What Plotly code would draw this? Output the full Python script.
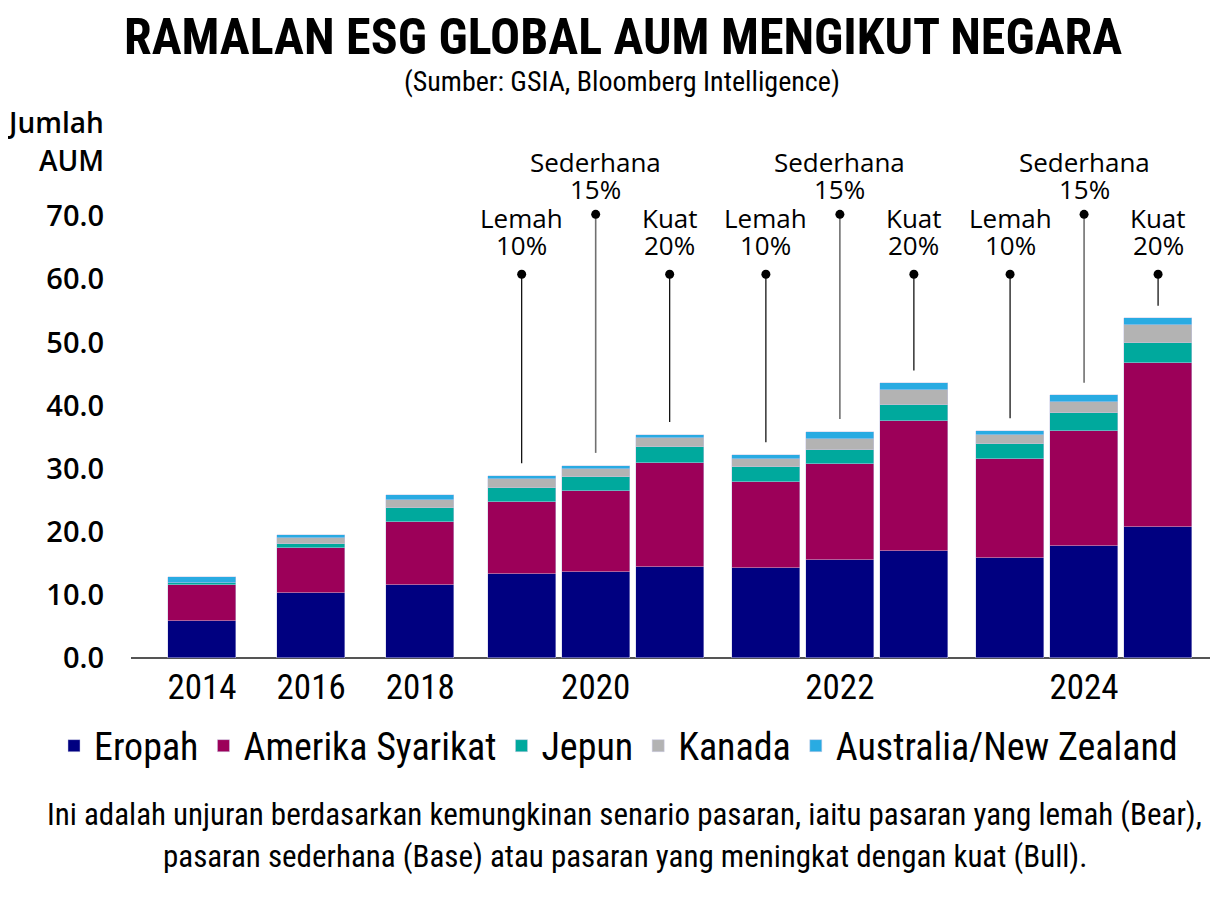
import plotly.graph_objects as go

# ---------------- data ----------------
years_single = ["2014", "2016", "2018"]
years_grouped = ["2020", "2022", "2024"]
scenario_names = ["Lemah", "Sederhana", "Kuat"]
scenario_rates = ["10%", "15%", "20%"]

series_names = ["Eropah", "Amerika Syarikat", "Jepun", "Kanada", "Australia/New Zealand"]
# order: 2014, 2016, 2018, 2020(L,S,K), 2022(L,S,K), 2024(L,S,K)
eropah = [5.9, 10.3, 11.5, 13.3, 13.6, 14.4, 14.2, 15.5, 17.0, 15.9, 17.7, 20.7]
amerika = [5.6, 7.1, 10.1, 11.4, 12.8, 16.5, 13.7, 15.2, 20.5, 15.7, 18.2, 26.0]
jepun = [0.4, 0.6, 2.1, 2.3, 2.3, 2.6, 2.3, 2.3, 2.6, 2.3, 2.85, 3.2]
kanada = [0.0, 0.95, 1.3, 1.3, 1.3, 1.35, 1.3, 1.75, 2.3, 1.4, 1.75, 2.85]
australia = [0.95, 0.6, 0.8, 0.55, 0.5, 0.55, 0.7, 1.1, 1.15, 0.7, 1.1, 1.05]

y_ticks = [0, 10, 20, 30, 40, 50, 60, 70]

# ---------------- styles ----------------
colors = ["#000080", "#9C0059", "#00A99D", "#B3B3B3", "#29ABE2"]
COND = "Roboto Condensed, DejaVu Sans Condensed, Liberation Sans, sans-serif"
REG = "Open Sans, Noto Sans, sans-serif"

OFF = 8                      # page body margin of the html page
W, H = 1218 - OFF, 900 - OFF
UNIT = 442 / 70              # pixels per data unit
Y_MAX = 90
PH = Y_MAX * UNIT
L = 131 - OFF
R = 1
B = H - (658 - OFF)
T = H - B - PH
PW = W - L - R


def px(x_ref):
    return (x_ref - OFF - L) / PW


def py(y_ref):
    return (658 - y_ref) / PH


# ---------------- bar positions (layout) ----------------
single_step = 1.475
gap_after_singles = 1.37
gap_between_groups = 1.30
bar_width = 0.92

positions = []
x = 0.0
for _ in years_single:
    positions.append(x)
    x += single_step
x = positions[-1] + gap_after_singles
group_centers = []
for _ in years_grouped:
    grp = []
    for _ in scenario_names:
        grp.append(x)
        x += 1.0
    positions.extend(grp)
    group_centers.append(sum(grp) / len(grp))
    x = grp[-1] + gap_between_groups

tickvals = positions[:len(years_single)] + group_centers
ticktext = years_single + years_grouped

fig = go.Figure()
for name, vals, c in zip(series_names, [eropah, amerika, jepun, kanada, australia], colors):
    fig.add_trace(go.Bar(
        x=positions, y=vals, name=name, width=bar_width,
        marker=dict(color=c, line=dict(color="rgba(200,200,230,0.6)", width=0.8)),
        hoverinfo="y+name",
    ))

totals = [sum(v) for v in zip(eropah, amerika, jepun, kanada, australia)]

# leader lines, dots and scenario labels
dot_level_low = 60.8    # Lemah / Kuat
dot_level_high = 70.3   # Sederhana
line_gap = 2.0
n_single = len(years_single)
for g in range(len(years_grouped)):
    for s in range(len(scenario_names)):
        idx = n_single + g * len(scenario_names) + s
        xpos = positions[idx]
        high = (s == 1)
        top = dot_level_high if high else dot_level_low
        col = "#707070" if high else "#000000"
        lw = 1.6 if high else 1.2
        fig.add_trace(go.Scatter(
            x=[xpos, xpos], y=[totals[idx] + line_gap, top], mode="lines",
            line=dict(color=col, width=lw), showlegend=False, hoverinfo="skip",
        ))
        fig.add_trace(go.Scatter(
            x=[xpos], y=[top], mode="markers",
            marker=dict(color="#000000", size=9), showlegend=False, hoverinfo="skip",
        ))
        fig.add_annotation(
            x=xpos, y=top, xref="x", yref="y", text=scenario_names[s], showarrow=False,
            yanchor="middle", yshift=52 if high else 56,
            font=dict(family=REG, size=26, color="#000"),
        )
        fig.add_annotation(
            x=xpos, y=top, xref="x", yref="y", text=scenario_rates[s], showarrow=False,
            yanchor="middle", yshift=25 if high else 29,
            font=dict(family=REG, size=26, color="#000"),
        )

annotations_extra = [
    dict(text="<b>RAMALAN ESG GLOBAL AUM MENGIKUT NEGARA</b>", x=px(623), y=py(37),
         font=dict(family=COND, size=50, color="#000")),
    dict(text="(Sumber: GSIA, Bloomberg Intelligence)", x=px(622), y=py(81),
         font=dict(family=COND, size=28, color="#000")),
    dict(text="Ini adalah unjuran berdasarkan kemungkinan senario pasaran, iaitu pasaran yang lemah (Bear),",
         x=px(624), y=py(815), font=dict(family=COND, size=31, color="#000")),
    dict(text="pasaran sederhana (Base) atau pasaran yang meningkat dengan kuat (Bull).",
         x=px(625), y=py(857), font=dict(family=COND, size=31, color="#000")),
]
for a in annotations_extra:
    fig.add_annotation(xref="paper", yref="paper", showarrow=False,
                       xanchor="center", yanchor="middle", **a)

fig.add_annotation(xref="paper", yref="paper", x=px(106), y=py(122), showarrow=False,
                   xanchor="right", yanchor="middle", text="Jumlah",
                   font=dict(family=REG, size=28, color="#000", weight=600))
fig.add_annotation(xref="paper", yref="paper", x=px(106), y=py(160), showarrow=False,
                   xanchor="right", yanchor="middle", text="AUM",
                   font=dict(family=REG, size=28, color="#000", weight=600))

fig.update_layout(
    width=W, height=H, barmode="stack",
    margin=dict(l=L, r=R, t=T, b=B, autoexpand=False),
    plot_bgcolor="white", paper_bgcolor="white",
    showlegend=True,
    legend=dict(orientation="h", x=px(54), xanchor="left", y=py(746), yanchor="middle",
                font=dict(family=COND, size=38, color="#000"), traceorder="normal",
                itemwidth=30),
    bargap=0,
)
fig.update_xaxes(
    range=[(131 - 202) / 74, (1217 - 202) / 74],
    tickmode="array", tickvals=tickvals, ticktext=ticktext,
    showgrid=False, zeroline=False, showline=False, ticks="",
    ticklabelstandoff=5,
    tickfont=dict(family=COND, size=35, color="#000"),
)
fig.update_yaxes(
    range=[0, Y_MAX], tickmode="array", tickvals=y_ticks, tickformat=".1f",
    showgrid=False, zeroline=True, zerolinecolor="#555555", zerolinewidth=2,
    showline=False, ticks="", ticklabelstandoff=26,
    tickfont=dict(family=REG, size=29, color="#000", weight=600),
)
fig.write_html("out.html")
